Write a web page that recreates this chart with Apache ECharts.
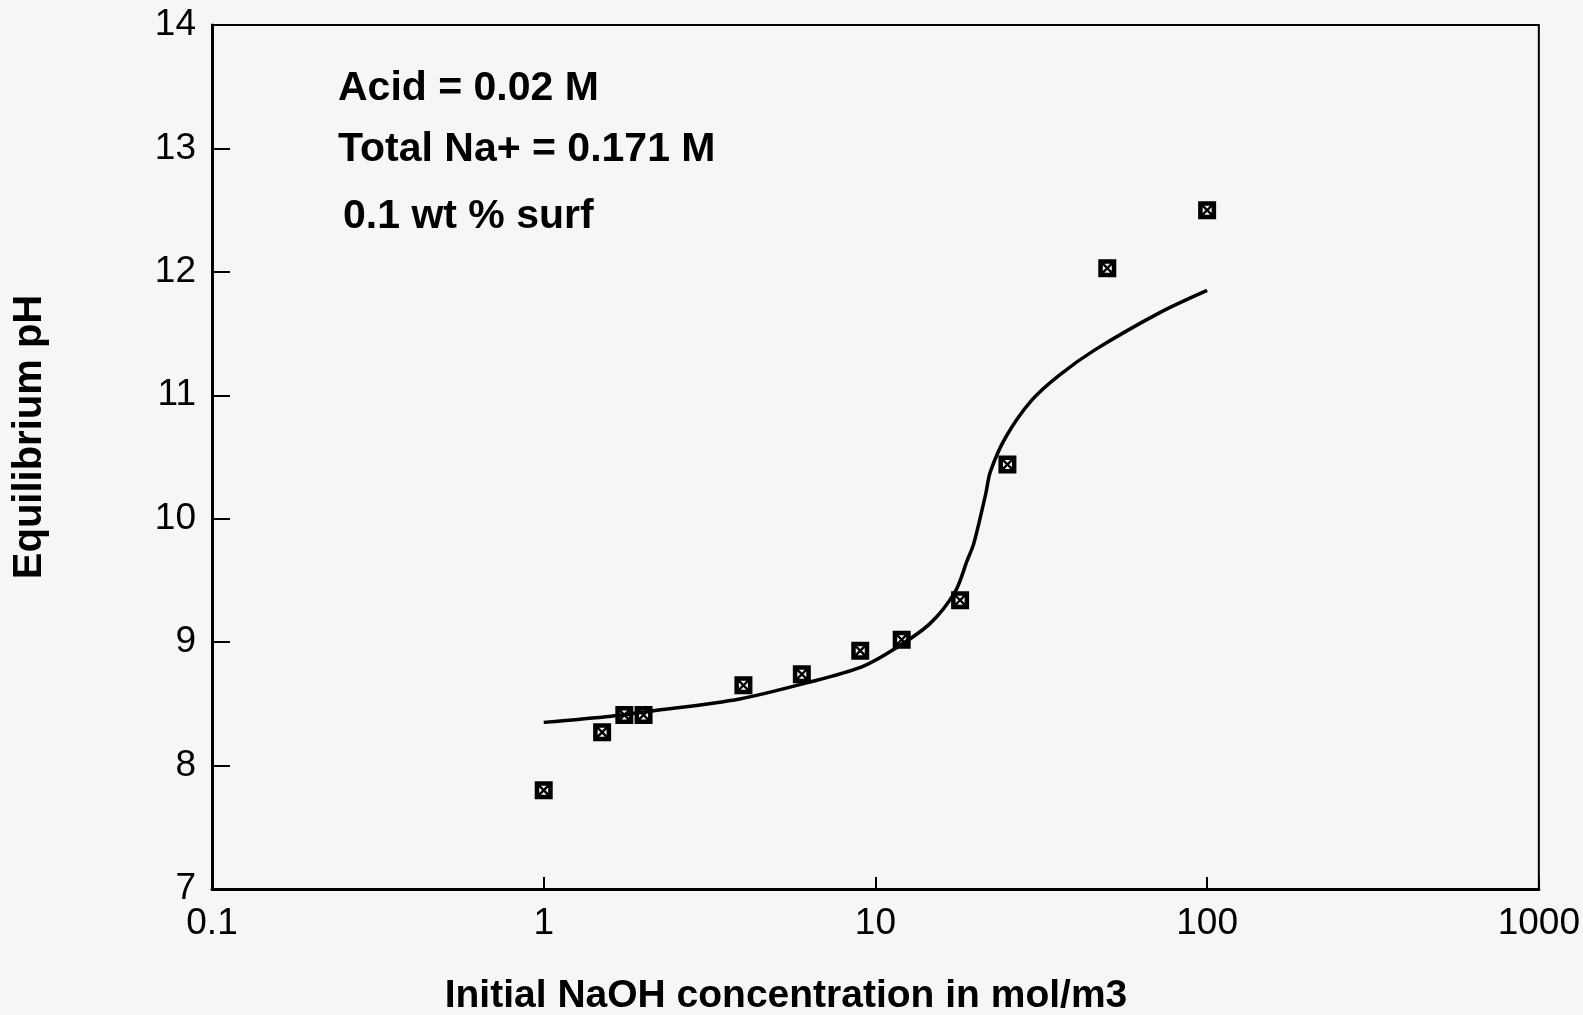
<!DOCTYPE html>
<html>
<head>
<meta charset="utf-8">
<script src="https://cdn.jsdelivr.net/npm/echarts@6/dist/echarts.min.js"></script>
<style>
  html, body { margin: 0; padding: 0; background: #f6f6f6; }
  #main { width: 1583px; height: 1015px; }
</style>
</head>
<body>
<div id="main"></div>
<script>
// measured points
var naoh = [1, 1.5, 1.75, 2, 4, 6, 9, 12, 18, 25, 50, 100];
var phMeasured = [7.80, 8.27, 8.41, 8.41, 8.65, 8.74, 8.93, 9.02, 9.34, 10.44, 12.03, 12.50];

// model curve
var curveX = [1, 1.6, 2.1, 3.9, 6.2, 9.1, 11.5, 14.6, 17.4, 18.9, 19.8, 21.5, 22.2, 24.7, 29.6, 35.7, 46, 72, 100];
var curveY = [8.35, 8.40, 8.44, 8.54, 8.67, 8.80, 8.95, 9.15, 9.41, 9.66, 9.80, 10.2, 10.38, 10.66, 10.96, 11.16, 11.37, 11.67, 11.85];

var yTicks = [7, 8, 9, 10, 11, 12, 13, 14];

var chart = echarts.init(document.getElementById('main'));

var font = 'Liberation Sans, Arial, Helvetica, sans-serif';

// square with an X inside (holes cut by reversed winding)
var boxX = 'path://M0 0L16 0L16 16L0 16Z' +
  'M5.5 4L8 6.5L10.5 4Z' +
  'M12 5.5L9.5 8L12 10.5Z' +
  'M10.5 12L8 9.5L5.5 12Z' +
  'M4 10.5L6.5 8L4 5.5Z';

var option = {
  backgroundColor: '#f6f6f6',
  animation: false,
  grid: {
    left: 212, top: 25, right: 39, bottom: 126,
    show: true, borderColor: '#000', borderWidth: 2, backgroundColor: 'transparent'
  },
  xAxis: {
    type: 'log', logBase: 10, min: 0.1, max: 1000,
    axisLine: { show: true, lineStyle: { color: '#000', width: 3 } },
    axisTick: { show: true, inside: true, length: 12, lineStyle: { color: '#000', width: 2 } },
    minorTick: { show: false },
    splitLine: { show: false },
    axisLabel: { color: '#000', fontSize: 37, fontFamily: font, margin: 16,
      formatter: function (v) { return String(v); } }
  },
  yAxis: {
    type: 'value', min: yTicks[0], max: yTicks[yTicks.length - 1], interval: 1,
    axisLine: { show: true, lineStyle: { color: '#000', width: 3 } },
    axisTick: { show: true, inside: true, length: 18, lineStyle: { color: '#000', width: 2 } },
    splitLine: { show: false },
    axisLabel: { color: '#000', fontSize: 37, fontFamily: font, margin: 16 }
  },
  graphic: [
    { type: 'text', x: 338, y: 89,
      style: { text: 'Acid = 0.02 M', font: 'bold 41px ' + font, fill: '#000', verticalAlign: 'middle' } },
    { type: 'text', x: 338, y: 150,
      style: { text: 'Total Na+ = 0.171 M', font: 'bold 41px ' + font, fill: '#000', verticalAlign: 'middle' } },
    { type: 'text', x: 343, y: 217,
      style: { text: '0.1 wt % surf', font: 'bold 41px ' + font, fill: '#000', verticalAlign: 'middle' } },
    { type: 'text', x: 786, y: 996,
      style: { text: 'Initial NaOH concentration in mol/m3', font: 'bold 39px ' + font,
        fill: '#000', align: 'center', verticalAlign: 'middle' } },
    { type: 'text', x: 30, y: 437, rotation: Math.PI / 2,
      style: { text: 'Equilibrium pH', font: 'bold 40px ' + font,
        fill: '#000', align: 'center', verticalAlign: 'middle' } }
  ],
  series: [
    {
      name: 'model',
      type: 'line',
      data: curveX.map(function (x, i) { return [x, curveY[i]]; }),
      showSymbol: false,
      smooth: 0.3,
      lineStyle: { color: '#000', width: 3.5 },
      z: 2
    },
    {
      name: 'measured',
      type: 'scatter',
      data: naoh.map(function (x, i) { return [x, phMeasured[i]]; }),
      symbol: boxX,
      symbolSize: 18,
      itemStyle: { color: '#000', opacity: 1 },
      z: 3
    }
  ]
};

chart.setOption(option);
</script>
</body>
</html>
